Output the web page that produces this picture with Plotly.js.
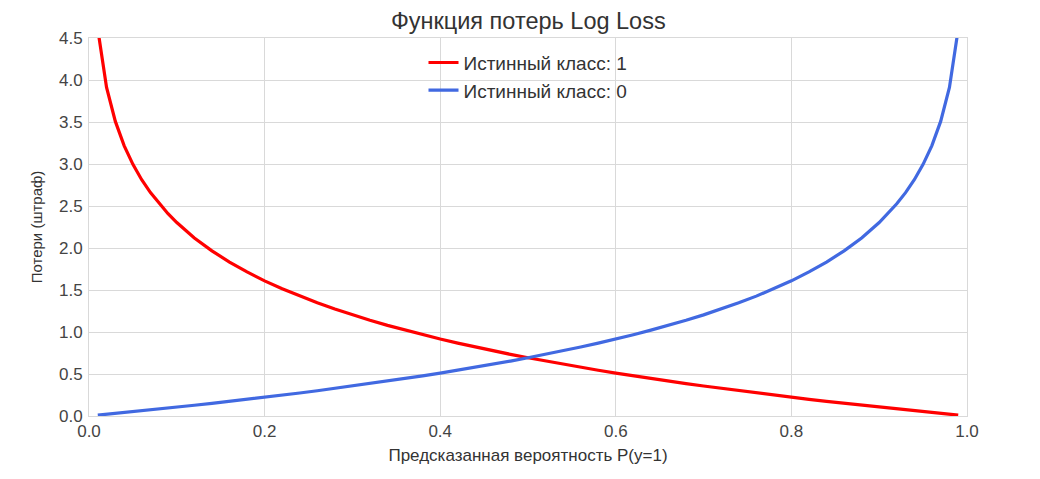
<!DOCTYPE html>
<html>
<head>
<meta charset="utf-8">
<script src="https://cdn.plot.ly/plotly-3.0.1.min.js"></script>
<style>
  html, body { margin: 0; padding: 0; background: #fff; }
  #chart { width: 1040px; height: 479px; }
</style>
</head>
<body>
<div id="chart"></div>
<script>
// predicted probability P(y=1)
var probs = [0.01, 0.02, 0.03, 0.04, 0.05, 0.06, 0.07, 0.08, 0.09, 0.10,
             0.12, 0.14, 0.16, 0.18, 0.20, 0.22, 0.24, 0.26, 0.28, 0.30,
             0.32, 0.34, 0.36, 0.38, 0.40, 0.42, 0.44, 0.46, 0.48, 0.50,
             0.52, 0.54, 0.56, 0.58, 0.60, 0.62, 0.64, 0.66, 0.68, 0.70,
             0.72, 0.74, 0.76, 0.78, 0.80, 0.82, 0.84, 0.86, 0.88, 0.90,
             0.91, 0.92, 0.93, 0.94, 0.95, 0.96, 0.97, 0.98, 0.99];

// loss when the true class is 1
var lossClass1 = [4.605, 3.912, 3.507, 3.219, 2.996, 2.813, 2.659, 2.526, 2.408, 2.303,
                  2.120, 1.966, 1.833, 1.715, 1.609, 1.514, 1.427, 1.347, 1.273, 1.204,
                  1.139, 1.079, 1.022, 0.968, 0.916, 0.868, 0.821, 0.777, 0.734, 0.693,
                  0.654, 0.616, 0.580, 0.545, 0.511, 0.478, 0.446, 0.416, 0.386, 0.357,
                  0.329, 0.301, 0.274, 0.248, 0.223, 0.198, 0.174, 0.151, 0.128, 0.105,
                  0.094, 0.083, 0.073, 0.062, 0.051, 0.041, 0.030, 0.020, 0.010];

// loss when the true class is 0
var lossClass0 = [0.010, 0.020, 0.030, 0.041, 0.051, 0.062, 0.073, 0.083, 0.094, 0.105,
                  0.128, 0.151, 0.174, 0.198, 0.223, 0.248, 0.274, 0.301, 0.329, 0.357,
                  0.386, 0.416, 0.446, 0.478, 0.511, 0.545, 0.580, 0.616, 0.654, 0.693,
                  0.734, 0.777, 0.821, 0.868, 0.916, 0.968, 1.022, 1.079, 1.139, 1.204,
                  1.273, 1.347, 1.427, 1.514, 1.609, 1.715, 1.833, 1.966, 2.120, 2.303,
                  2.408, 2.526, 2.659, 2.813, 2.996, 3.219, 3.507, 3.912, 4.605];

var xTicks = [0.0, 0.2, 0.4, 0.6, 0.8, 1.0];
var yTicks = [0.0, 0.5, 1.0, 1.5, 2.0, 2.5, 3.0, 3.5, 4.0, 4.5];

var trace1 = {
  x: probs,
  y: lossClass1,
  name: 'Истинный класс: 1',
  mode: 'lines',
  line: { color: '#ff0000', width: 3.2 },
  type: 'scatter'
};

var trace0 = {
  x: probs,
  y: lossClass0,
  name: 'Истинный класс: 0',
  mode: 'lines',
  line: { color: '#4169e1', width: 3.2 },
  type: 'scatter'
};

var data = [trace1, trace0];

var axisBase = {
  showgrid: true,
  gridcolor: '#d9d9d9',
  gridwidth: 1,
  zeroline: false,
  showline: true,
  linecolor: '#d9d9d9',
  linewidth: 1,
  mirror: true,
  ticks: '',
  tickfont: { size: 17, color: '#444' },
  tickformat: '.1f'
};

var layout = {
  width: 1040,
  height: 479,
  margin: { l: 89, r: 73, t: 38, b: 63 },
  paper_bgcolor: '#fff',
  plot_bgcolor: '#fff',
  font: { family: 'Liberation Sans, Arial, sans-serif', color: '#333' },
  title: {
    text: 'Функция потерь Log Loss',
    font: { size: 23.5, color: '#333' },
    x: 0.508,
    xanchor: 'center',
    y: 0.957,
    yanchor: 'middle'
  },
  xaxis: Object.assign({}, axisBase, {
    range: [0, 1],
    tickvals: xTicks,
    ticklabelstandoff: 0,
    title: { text: 'Предсказанная вероятность P(y=1)', font: { size: 17, color: '#333' }, standoff: 8 }
  }),
  yaxis: Object.assign({}, axisBase, {
    range: [0, 4.5],
    tickvals: yTicks,
    ticklabelstandoff: 2,
    title: { text: 'Потери (штраф)', font: { size: 15, color: '#333' }, standoff: 12 }
  }),
  showlegend: true,
  legend: {
    x: 0.5,
    xanchor: 'center',
    y: 0.985,
    yanchor: 'top',
    bgcolor: 'rgba(255,255,255,0)',
    font: { size: 19, color: '#333' },
    tracegroupgap: 0
  }
};

Plotly.newPlot('chart', data, layout, { staticPlot: true });
</script>
</body>
</html>
